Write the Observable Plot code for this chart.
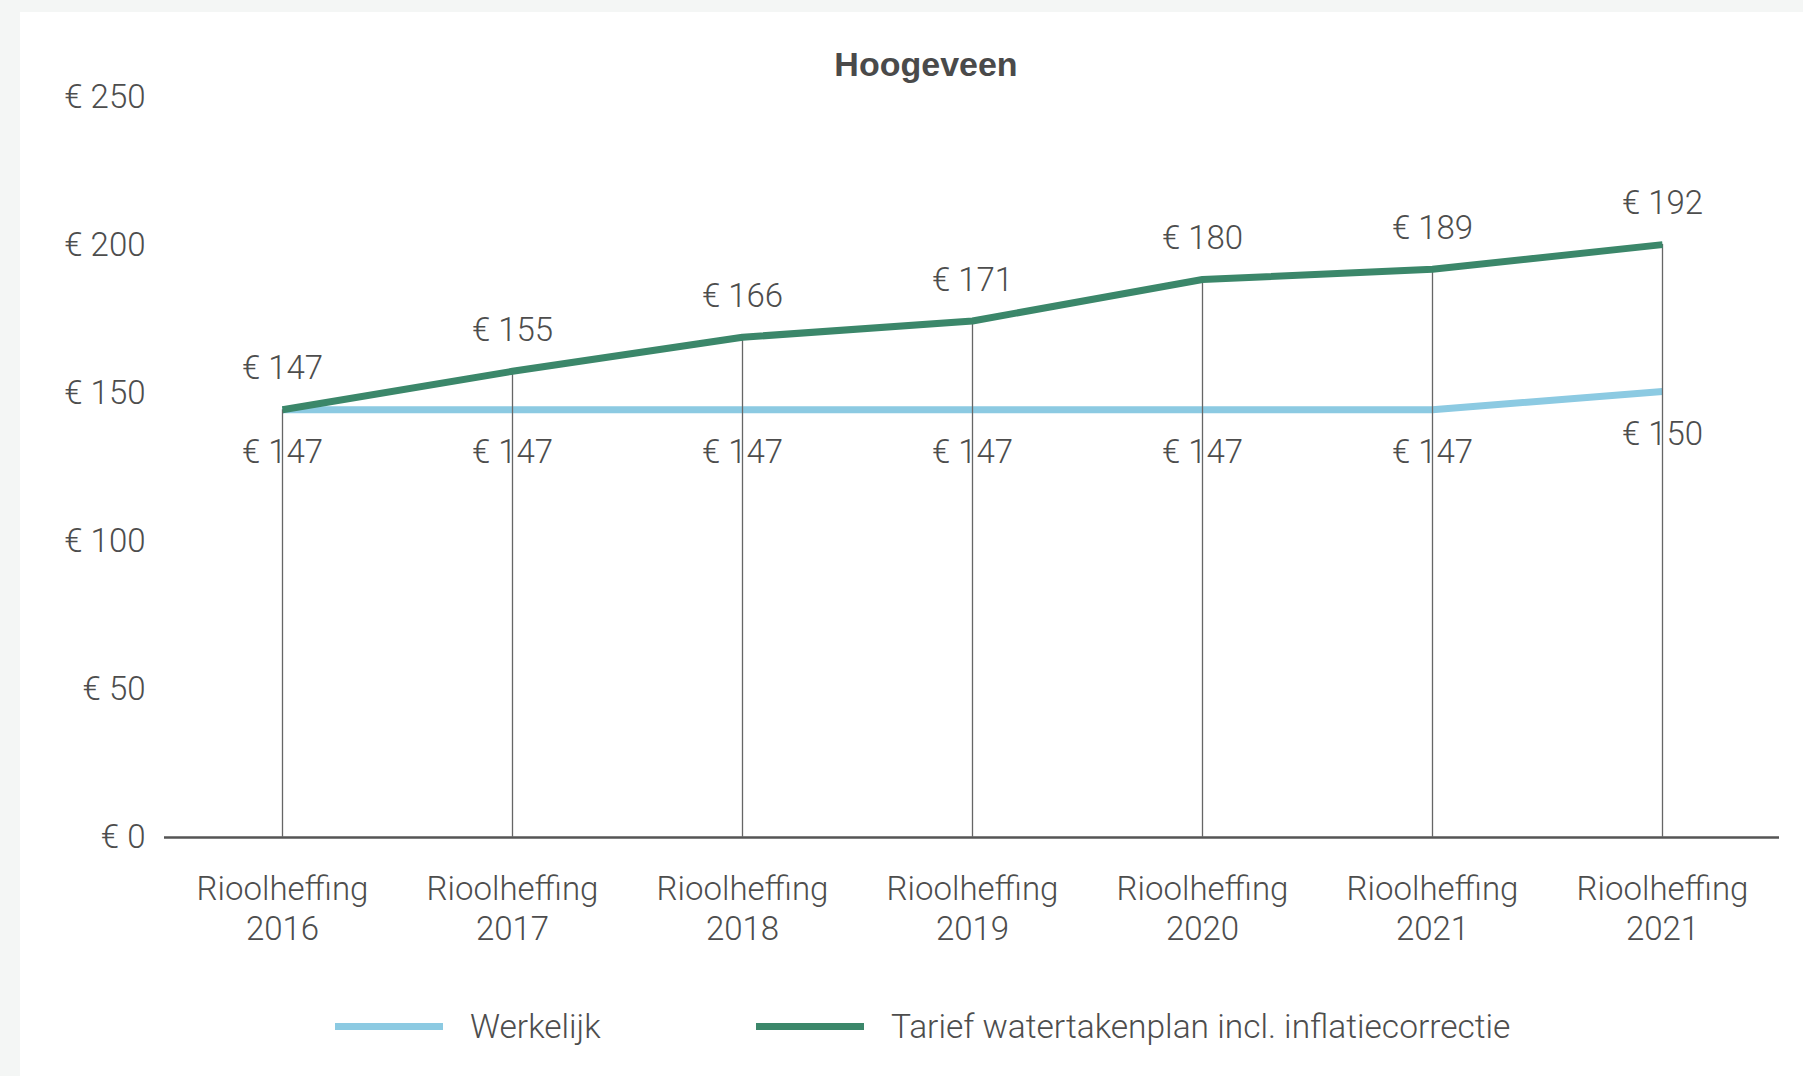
<!DOCTYPE html>
<html>
<head>
<meta charset="utf-8">
<script src="https://cdn.jsdelivr.net/npm/d3@7"></script>
<script src="https://cdn.jsdelivr.net/npm/@observablehq/plot@0.6"></script>
<style>
  html, body { margin: 0; padding: 0; }
  body { width: 1803px; height: 1076px; background: #f4f6f5; position: relative; overflow: hidden; }
  #panel { position: absolute; left: 20px; top: 12px; right: 0; bottom: 0; background: #ffffff; }
  #title { position: absolute; top: 44px; left: 726px; width: 400px; height: 40px; line-height: 40px; text-align: center;
           font-family: "Liberation Sans", Arial, sans-serif; font-weight: bold; font-size: 34px; color: #4a4a4a; z-index: 2; }
  #chart { position: absolute; left: 0; top: 74px; }
  .legend-item { position: absolute; top: 1006px; height: 40px; display: flex; align-items: center;
                 font-family: Roboto, "Liberation Sans", sans-serif; font-weight: 300; font-size: 33.5px; color: #4d4d4d; white-space: nowrap; }
  .legend-item .sw { width: 108px; height: 7px; margin-right: 27px; }
</style>
</head>
<body>
<div id="panel"></div>
<div id="title">Hoogeveen</div>
<div id="chart"></div>
<div id="legend"></div>
<script>
// ---- data ----
const categories = ["Rioolheffing 2016", "Rioolheffing 2017", "Rioolheffing 2018", "Rioolheffing 2019", "Rioolheffing 2020", "Rioolheffing 2021", "Rioolheffing 2021"];
const werkelijk = [144.5, 144.5, 144.5, 144.5, 144.5, 144.5, 150.7];
const tarief = [144.5, 157.5, 169, 174.5, 188.5, 192, 200.3];
const werkelijkLabels = [147, 147, 147, 147, 147, 147, 150];
const tariefLabels = [147, 155, 166, 171, 180, 189, 192];
const yTicks = [0, 50, 100, 150, 200, 250];
const seriesNames = ["Werkelijk", "Tarief watertakenplan incl. inflatiecorrectie"];
const seriesColors = ["#8ccae2", "#3b876a"];

const idx = categories.map((c, i) => i);
const rows = idx.map(i => ({i, werkelijk: werkelijk[i], tarief: tarief[i], wl: werkelijkLabels[i], tl: tariefLabels[i]}));
const textColor = "#4d4d4d";
const fs = 33;

const chart = Plot.plot({
  width: 1803,
  height: 890,
  marginLeft: 164,
  marginRight: 24,
  marginTop: 23,
  marginBottom: 127,
  style: {background: "transparent", fontFamily: "Roboto, 'Liberation Sans', sans-serif", fontWeight: 300, fontSize: fs + "px", color: textColor, overflow: "visible"},
  x: {type: "point", domain: idx, padding: 0.5},
  y: {domain: [0, 250]},
  marks: [
    Plot.axisY(yTicks, {tickSize: 0, tickPadding: 19, tickFormat: d => "€ " + d, fill: textColor, fontSize: fs, label: null}),
    Plot.axisX(idx, {tickSize: 0, tickPadding: 34, tickFormat: i => categories[i].replace(" ", "\n"), fill: textColor, fontSize: fs, lineHeight: 1.22, label: null}),
    Plot.ruleY([0], {stroke: "#555", strokeWidth: 2.5}),
    Plot.text(rows, {x: "i", y: "tarief", text: d => "€ " + d.tl, dy: -41, fill: textColor, fontSize: fs}),
    Plot.text(rows, {x: "i", y: "werkelijk", text: d => "€ " + d.wl, dy: 43, fill: textColor, fontSize: fs}),
    Plot.line(rows, {x: "i", y: "werkelijk", stroke: seriesColors[0], strokeWidth: 7, strokeLinecap: "butt", strokeLinejoin: "round"}),
    Plot.ruleX(rows, {x: "i", y1: 0, y2: "tarief", stroke: "#666", strokeWidth: 1.3}),
    Plot.line(rows, {x: "i", y: "tarief", stroke: seriesColors[1], strokeWidth: 7, strokeLinecap: "butt", strokeLinejoin: "round"})
  ]
});
document.getElementById("chart").appendChild(chart);

// ---- legend ----
const legendLefts = [335, 756];
const legend = document.getElementById("legend");
seriesNames.forEach((name, k) => {
  const item = document.createElement("div");
  item.className = "legend-item";
  item.style.left = legendLefts[k] + "px";
  const sw = document.createElement("span");
  sw.className = "sw";
  sw.style.background = seriesColors[k];
  const t = document.createElement("span");
  t.textContent = name;
  item.appendChild(sw);
  item.appendChild(t);
  legend.appendChild(item);
});
</script>
</body>
</html>
